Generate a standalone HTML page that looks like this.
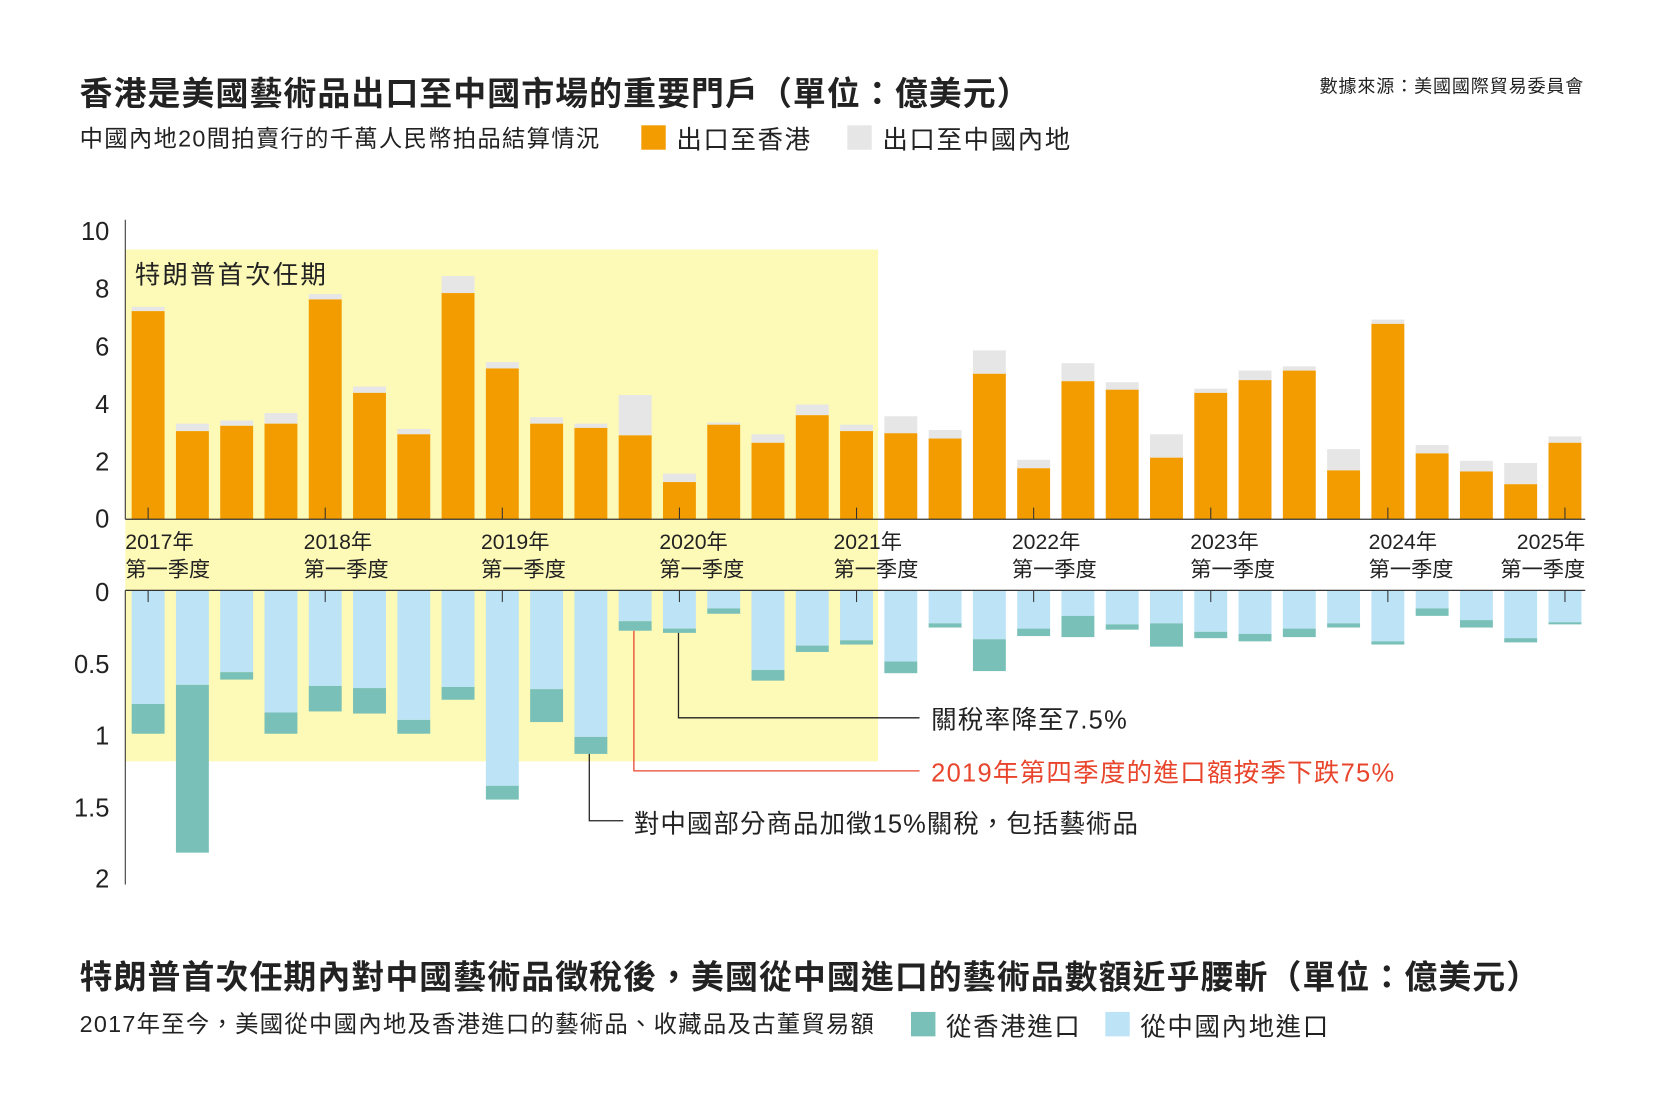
<!DOCTYPE html>
<html><head><meta charset="utf-8"><style>
html,body{margin:0;padding:0;background:#fff}
svg{display:block}
text{font-family:"Liberation Sans","Noto Sans CJK TC",sans-serif;fill:#222}
</style></head><body>
<svg id="s" width="1667" height="1111" viewBox="0 0 1570 1046.3" preserveAspectRatio="none" xmlns="http://www.w3.org/2000/svg">
<rect width="1570" height="1047" fill="#fff"/>
<text x="75" y="99" font-size="31" font-weight="bold" letter-spacing="1">香港是美國藝術品出口至中國市場的重要門戶（單位：億美元）</text>
<text x="1492" y="87" font-size="17" text-anchor="end" letter-spacing="0.8">數據來源：美國國際貿易委員會</text>
<text x="75" y="138" font-size="22" letter-spacing="1.2">中國內地20間拍賣行的千萬人民幣拍品結算情況</text>
<rect x="604" y="118" width="23" height="23" fill="#f39c00"/>
<text x="637" y="140" font-size="24" letter-spacing="1.5">出口至香港</text>
<rect x="798" y="118" width="23" height="23" fill="#e6e6e6"/>
<text x="831" y="140" font-size="24" letter-spacing="1.5">出口至中國內地</text>
<rect x="118" y="235" width="709" height="482" fill="#fdf9b6"/>
<text x="127" y="267" font-size="24" letter-spacing="2">特朗普首次任期</text>
<g id="bars"></g>
<g font-size="24" text-anchor="end">
<text x="103" y="226">10</text><text x="103" y="280">8</text><text x="103" y="335">6</text><text x="103" y="389">4</text><text x="103" y="443">2</text><text x="103" y="497">0</text>
<text x="103" y="566">0</text><text x="103" y="634">0.5</text><text x="103" y="701">1</text><text x="103" y="769">1.5</text><text x="103" y="836">2</text>
</g>
<line x1="118" y1="207" x2="118" y2="489" stroke="#333" stroke-width="1"/>
<line x1="118" y1="556" x2="118" y2="833" stroke="#333" stroke-width="1"/>
<line x1="118" y1="489" x2="1493" y2="489" stroke="#333" stroke-width="1.2"/>
<line x1="118" y1="556" x2="1493" y2="556" stroke="#333" stroke-width="1.2"/>
<g id="xl" font-size="20"></g>
<polyline points="639,596 639,676 866,676" fill="none" stroke="#222" stroke-width="1.2"/>
<text x="877" y="686" font-size="24" letter-spacing="1.2">關稅率降至7.5%</text>
<polyline points="597,594 597,726 866,726" fill="none" stroke="#e8452c" stroke-width="1.2"/>
<text x="877" y="736" font-size="24" letter-spacing="1.2" style="fill:#e8452c">2019年第四季度的進口額按季下跌75%</text>
<polyline points="555,710 555,773 587,773" fill="none" stroke="#222" stroke-width="1.2"/>
<text x="597" y="784" font-size="24" letter-spacing="1">對中國部分商品加徵15%關稅，包括藝術品</text>
<text x="75" y="931" font-size="31" font-weight="bold" letter-spacing="1">特朗普首次任期內對中國藝術品徵稅後，美國從中國進口的藝術品數額近乎腰斬（單位：億美元）</text>
<text x="75" y="972" font-size="22" letter-spacing="1.2">2017年至今，美國從中國內地及香港進口的藝術品、收藏品及古董貿易額</text>
<rect x="858" y="953" width="23" height="23" fill="#79c0b8"/>
<text x="891" y="975" font-size="24" letter-spacing="1.5">從香港進口</text>
<rect x="1041" y="953" width="23" height="23" fill="#bde3f7"/>
<text x="1074" y="975" font-size="24" letter-spacing="1.5">從中國內地進口</text>
</svg>
<script>
var o=[293,406,401,399,282,370,409,276,347,399,403,410,454,400,417,391,406,408,413,352,441,359,367,431,370,358,349,443,305,427,444,456,417];
var g=[289,399,396,389,277,364,404,260,341,393,399,372,446,398,409,381,400,392,405,330,433,342,360,409,366,349,345,423,301,419,434,436,411];
var b=[663,645,633,671,646,648,678,647,740,649,694,585,592,573,631,608,603,623,587,602,592,580,588,587,595,597,592,587,604,573,584,601,586];
var t=[691,803,640,691,670,672,691,659,753,680,710,594,596,578,641,614,607,634,591,632,599,600,593,609,601,604,600,591,607,580,591,605,588];
var NS="http://www.w3.org/2000/svg",G=document.getElementById("bars"),X=document.getElementById("xl");
function r(x,y,w,h,f){var e=document.createElementNS(NS,"rect");e.setAttribute("x",x);e.setAttribute("y",y);e.setAttribute("width",w);e.setAttribute("height",Math.max(h,0));e.setAttribute("fill",f);G.appendChild(e);}
function l(x,y1,y2){var e=document.createElementNS(NS,"line");e.setAttribute("x1",x);e.setAttribute("x2",x);e.setAttribute("y1",y1);e.setAttribute("y2",y2);e.setAttribute("stroke","#333");e.setAttribute("stroke-width","1");G.appendChild(e);}
function tx(x,y,s,a){var e=document.createElementNS(NS,"text");e.setAttribute("x",x);e.setAttribute("y",y);if(a)e.setAttribute("text-anchor",a);e.textContent=s;X.appendChild(e);}
for(var i=0;i<33;i++){var x=124+i*41.7,w=31;
r(x,g[i],w,o[i]-g[i],"#e6e6e6");r(x,o[i],w,489-o[i],"#f39c00");
r(x,556,w,b[i]-556,"#bde3f7");r(x,b[i],w,t[i]-b[i],"#79c0b8");
if(i%4==0){var c=x+w/2;l(c,478,489);l(c,556,567);}}
var yrs=[2017,2018,2019,2020,2021,2022,2023,2024];
var xs=[118,286,453,621,785,953,1121,1289];
for(var k=0;k<8;k++){tx(xs[k],517,yrs[k]+"年");tx(xs[k],543,"第一季度");}
tx(1493,517,"2025年","end");tx(1493,543,"第一季度","end");
</script>
</body></html>
